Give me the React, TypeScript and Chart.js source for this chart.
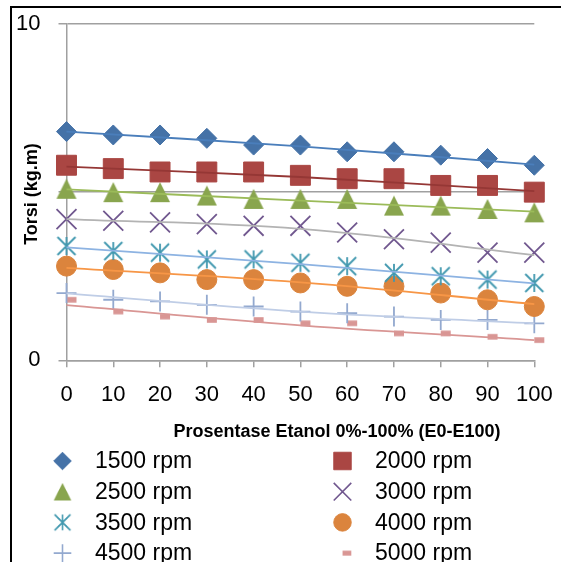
import React, { useEffect, useRef } from 'react';
import { Chart, registerables } from 'chart.js';
import { drawPoint } from 'chart.js/helpers';

Chart.register(...registerables);

// ---------- data ----------
const ethanolPct = [0, 10, 20, 30, 40, 50, 60, 70, 80, 90, 100];
const xTickValues = [0, 10, 20, 30, 40, 50, 60, 70, 80, 90, 100];
const yTickValues = [0, 5, 10];
const yTickLabels = ['0', '', '10'];

const seriesNames = ['1500 rpm', '2000 rpm', '2500 rpm', '3000 rpm', '3500 rpm', '4000 rpm', '4500 rpm', '5000 rpm'];

const torsi1500 = [6.8, 6.7, 6.7, 6.6, 6.4, 6.4, 6.2, 6.2, 6.1, 6.0, 5.8];
const torsi2000 = [5.8, 5.7, 5.6, 5.6, 5.6, 5.5, 5.4, 5.4, 5.2, 5.2, 5.0];
const torsi2500 = [5.1, 5.0, 5.0, 4.9, 4.8, 4.8, 4.8, 4.6, 4.6, 4.5, 4.4];
const torsi3000 = [4.2, 4.15, 4.1, 4.05, 4.0, 4.0, 3.8, 3.6, 3.5, 3.2, 3.2];
const torsi3500 = [3.4, 3.25, 3.2, 3.0, 3.0, 2.9, 2.8, 2.6, 2.5, 2.4, 2.3];
const torsi4000 = [2.8, 2.7, 2.6, 2.4, 2.4, 2.3, 2.2, 2.2, 2.0, 1.8, 1.6];
const torsi4500 = [2.0, 1.8, 1.75, 1.65, 1.6, 1.45, 1.4, 1.3, 1.2, 1.2, 1.1];
const torsi5000 = [1.8, 1.45, 1.3, 1.2, 1.2, 1.1, 1.1, 0.8, 0.8, 0.7, 0.6];

// trendline values read at x = 0, 50, 100
const trendX = [0, 50, 100];
const trend1500 = [6.8, 6.36, 5.82];
const trend2000 = [5.76, 5.45, 5.03];
const trend2500 = [5.08, 4.75, 4.42];
const trend3000 = [4.2, 3.91, 3.13];
const trend3500 = [3.36, 2.86, 2.29];
const trend4000 = [2.75, 2.32, 1.67];
const trend4500 = [1.99, 1.45, 1.1];
const trend5000 = [1.64, 1.04, 0.6];

const xTitle = 'Prosentase Etanol 0%-100% (E0-E100)';
const yTitle = 'Torsi (kg.m)';

// ---------- styles ----------
const FONT = '"Liberation Sans", Arial, sans-serif';
const markerColors = ['#4572A7', '#AA4643', '#89A54E', '#71588F', '#4198AF', '#DB843D', '#93A9CF', '#D99694'];
const trendColors = ['#4A7EBB', '#953735', '#9BBB59', '#B3B3B3', '#8DB3E2', '#F79646', '#BFCDE6', '#D99694'];
const AXIS_GRAY = '#A0A0A0';

function makeCanvas(w: number, h: number, draw: (c: CanvasRenderingContext2D) => void) {
  const c = document.createElement('canvas');
  c.width = w;
  c.height = h;
  const ctx = c.getContext('2d')!;
  draw(ctx);
  return c;
}

function buildMarkers() {
  const triangle = makeCanvas(22, 22, (c) => {
    c.fillStyle = markerColors[2];
    c.beginPath();
    c.moveTo(11, 1);
    c.lineTo(21, 21);
    c.lineTo(1, 21);
    c.closePath();
    c.fill();
  });
  const star = makeCanvas(22, 22, (c) => {
    c.strokeStyle = markerColors[4];
    c.lineWidth = 1.8;
    c.beginPath();
    c.moveTo(2, 2); c.lineTo(20, 20);
    c.moveTo(2, 20); c.lineTo(20, 2);
    c.moveTo(11, 2); c.lineTo(11, 20);
    c.stroke();
  });
  const dash = makeCanvas(22, 8, (c) => {
    c.fillStyle = markerColors[7];
    c.fillRect(11, 1.2, 10, 5.6);
  });
  return [
    { style: 'rectRot' as any, radius: 10, border: 1 },
    { style: 'rect' as any, radius: 14.1, border: 1 },
    { style: triangle as any, radius: 10, border: 0 },
    { style: 'crossRot' as any, radius: 14.1, border: 1.8 },
    { style: star as any, radius: 10, border: 0 },
    { style: 'circle' as any, radius: 10, border: 1 },
    { style: 'cross' as any, radius: 10, border: 1.8 },
    { style: dash as any, radius: 10, border: 0 },
  ];
}

export default function App() {
  const ref = useRef<HTMLCanvasElement>(null);

  useEffect(() => {
    document.body.style.overflow = 'hidden';
    const markers = buildMarkers();
    const seriesValues = [torsi1500, torsi2000, torsi2500, torsi3000, torsi3500, torsi4000, torsi4500, torsi5000];
    const trendValues = [trend1500, trend2000, trend2500, trend3000, trend3500, trend4000, trend4500, trend5000];

    const trendSets = trendValues.map((vals, i) => ({
      label: seriesNames[i] + ' trend',
      data: trendX.map((x, j) => ({ x, y: vals[j] })),
      showLine: true,
      pointRadius: 0,
      borderColor: trendColors[i],
      backgroundColor: trendColors[i],
      borderWidth: 1.8,
      tension: 0.4,
      fill: false,
      clip: false as any,
      order: 0,
    }));
    const markerSets = seriesValues.map((vals, i) => ({
      label: seriesNames[i],
      data: ethanolPct.map((x, j) => ({ x, y: vals[j] })),
      showLine: false,
      pointStyle: markers[i].style,
      pointRadius: markers[i].radius,
      pointBorderWidth: markers[i].border,
      backgroundColor: markerColors[i],
      borderColor: markerColors[i],
      clip: false as any,
      order: 1,
    }));

    const overlay = {
      id: 'overlay',
      afterDraw(chart: any) {
        const ctx: CanvasRenderingContext2D = chart.ctx;
        ctx.save();
        ctx.fillStyle = '#000';
        // axis titles
        ctx.font = `bold 18px ${FONT}`;
        ctx.textAlign = 'center';
        ctx.textBaseline = 'middle';
        ctx.fillText(xTitle, 337, 432);
        ctx.save();
        ctx.translate(32.5, 194);
        ctx.rotate(-Math.PI / 2);
        ctx.fillText(yTitle, 0, 0);
        ctx.restore();

        // legend
        const colMarkerX = [62.5, 342.5];
        const colTextX = [95, 375];
        const k = 0.88;
        ctx.font = `23px ${FONT}`;
        ctx.textAlign = 'left';
        seriesNames.forEach((name, i) => {
          const col = i % 2;
          const row = Math.floor(i / 2);
          const y = 461 + row * 30.7;
          const mx = colMarkerX[col];
          const m = markers[i];
          ctx.save();
          ctx.translate(mx, y);
          ctx.scale(k, k);
          ctx.fillStyle = markerColors[i];
          ctx.strokeStyle = markerColors[i];
          ctx.lineWidth = m.border || 1;
          drawPoint(ctx, { pointStyle: m.style, radius: m.radius, borderWidth: m.border, rotation: 0 } as any, 0, 0);
          ctx.restore();
          ctx.fillStyle = '#000';
          ctx.fillText(name, colTextX[col], y + 1);
        });
        ctx.restore();
      },
    };

    const chart = new Chart(ref.current!, {
      type: 'scatter',
      data: { datasets: [...trendSets, ...markerSets] as any },
      options: {
        responsive: false,
        animation: false,
        layout: { padding: { left: 0, top: 24, right: 26.7, bottom: 141.7 } },
        plugins: { legend: { display: false }, tooltip: { enabled: false } },
        scales: {
          x: {
            type: 'linear',
            min: 0,
            max: 100,
            afterBuildTicks: (s: any) => { s.ticks = xTickValues.map((v) => ({ value: v })); },
            ticks: { font: { size: 22, family: FONT }, color: '#000', padding: 14.5, maxRotation: 0 },
            grid: { drawOnChartArea: false, drawTicks: true, tickLength: 7, color: AXIS_GRAY, lineWidth: 1.5 },
            border: { color: AXIS_GRAY, width: 1.5 },
            afterFit: (s: any) => { s.height = 60; s.paddingLeft = 0; s.paddingRight = 0; },
          },
          y: {
            type: 'linear',
            min: 0,
            max: 10,
            afterBuildTicks: (s: any) => { s.ticks = yTickValues.map((v) => ({ value: v })); },
            ticks: {
              font: { size: 22, family: FONT },
              color: '#000',
              padding: 18,
              callback: (v: any) => yTickLabels[yTickValues.indexOf(Number(v))] ?? '',
            },
            grid: { color: AXIS_GRAY, lineWidth: 1.5, tickLength: 8 },
            border: { color: AXIS_GRAY, width: 1.5 },
            afterFit: (s: any) => { s.width = 66.5; s.paddingTop = 0; s.paddingBottom = 0; },
          },
        },
      } as any,
      plugins: [overlay],
    });
    return () => chart.destroy();
  }, []);

  return (
    <div>
      <canvas ref={ref} width={561} height={562} style={{ position: 'absolute', left: 0, top: 0, width: 561, height: 562 }} />
      <div
        style={{
          position: 'absolute',
          left: 10,
          top: 6,
          width: 551,
          height: 556,
          boxSizing: 'border-box',
          borderLeft: '2px solid #000',
          borderTop: '2px solid #000',
          pointerEvents: 'none',
        }}
      />
    </div>
  );
}
